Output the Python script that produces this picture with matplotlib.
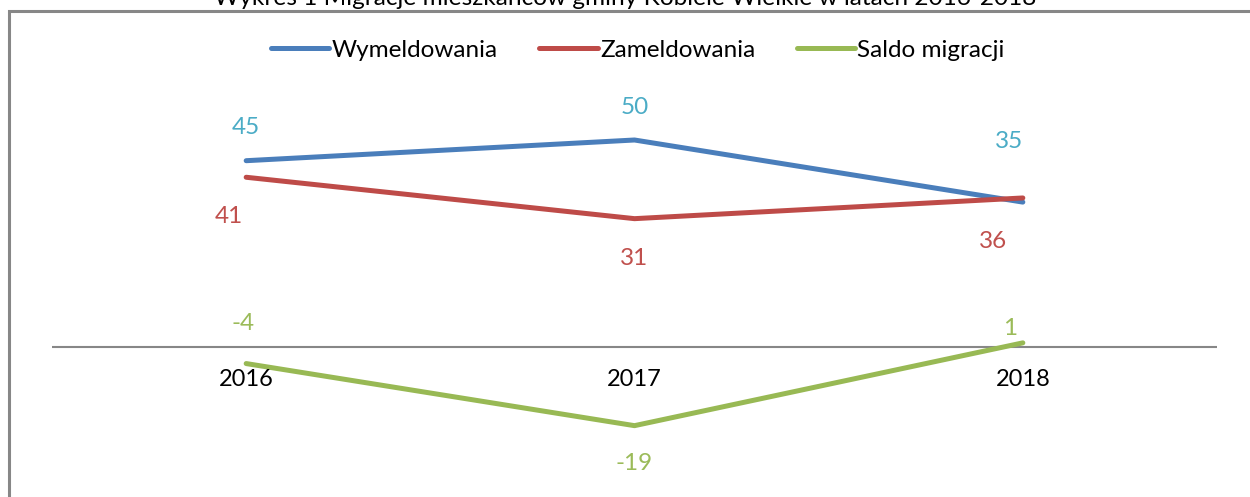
import matplotlib
matplotlib.use("Agg")
import matplotlib.pyplot as plt
from matplotlib.patches import Rectangle

plt.rcParams['font.family'] = ['Lato', 'DejaVu Sans']

years = ['2016', '2017', '2018']
wymeldowania = [45, 50, 35]
zameldowania = [41, 31, 36]
saldo = [-4, -19, 1]

title = 'Wykres 1 Migracje mieszkańców gminy Kobiele Wielkie w latach 2016-2018'

W, H = 1250, 497
fig = plt.figure(figsize=(W / 100, H / 100), dpi=100)

# outer chart frame (cut at right and bottom like the source)
fig.patches.append(Rectangle((9 / W, -0.1), 1.2, 1 - 11 / H + 0.1,
                             transform=fig.transFigure, fill=False,
                             edgecolor='#878787', linewidth=2.2))
fig.text(625 / W, 1 - 5 / H, title, ha='center', va='baseline', fontsize=17.6)

# plot area: x from 52 to 1217 px, ylim chosen so 0 sits at y=347 px
ymin, ymax = -30, 60
px_per = 4.14
top_px = 347 - ymax * px_per
bot_px = 347 - ymin * px_per
ax = fig.add_axes([52 / W, 1 - bot_px / H, (1217 - 52) / W, (bot_px - top_px) / H])
ax.set_xlim(-0.5, 2.5)
ax.set_ylim(ymin, ymax)
ax.axis('off')
ax.axhline(0, color='#878787', linewidth=1.5, zorder=1)

x = range(len(years))
series = [
    ('Wymeldowania', wymeldowania, '#4A7EBB', '#4BACC6'),
    ('Zameldowania', zameldowania, '#BE4B48', '#C0504D'),
    ('Saldo migracji', saldo, '#98B954', '#9BBB59'),
]
# label offsets in pixels (dx, dy), per point
offsets = [
    [(0, 33), (0, 33), (-14, 61)],
    [(-17, -39), (0, -40), (-30, -44)],
    [(-3, 40), (0, -38), (-13, 14)],
]
for (name, vals, lc, tc), offs in zip(series, offsets):
    ax.plot(x, vals, color=lc, linewidth=3.6, solid_capstyle='round', label=name, zorder=3)
    for xi, v, (dx, dy) in zip(x, vals, offs):
        ax.annotate(str(v), (xi, v), xytext=(dx * 0.72, dy * 0.72), textcoords='offset points',
                    ha='center', va='center', color=tc, fontsize=17.5)

for xi, yr in zip(x, years):
    ax.text(xi, -33 / px_per, yr, ha='center', va='center', fontsize=17)

leg = fig.legend(loc='center', bbox_to_anchor=(638 / W, 1 - 50 / H), ncol=3, frameon=False,
                 fontsize=17.5, handlelength=2.4, handletextpad=0.1, columnspacing=1.7)

fig.savefig('out.png', dpi=100)
